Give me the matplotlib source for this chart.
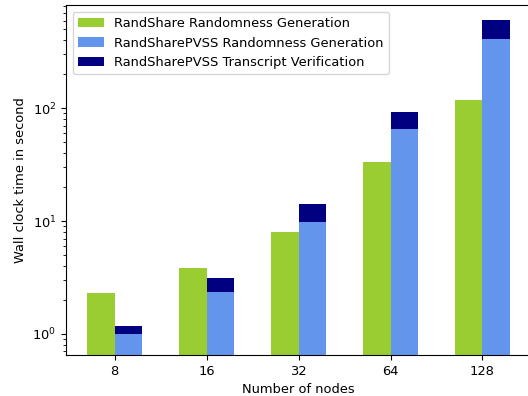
import numpy as np
import matplotlib
matplotlib.use('Agg')
import matplotlib.pyplot as plt

# dane
nodes = ['8', '16', '32', '64', '128']
randshare_gen = [2.29, 3.87, 8.06, 33.4, 117.8]
pvss_gen = [1.0, 2.34, 9.77, 65.6, 411]
pvss_verif = [0.18, 0.78, 4.4, 26.6, 191]

plt.rcParams['font.size'] = 9.4

x = np.arange(len(nodes))
width = 0.3

fig = plt.figure(figsize=(5.28, 3.96), dpi=100)
ax = fig.add_axes([0.125, 0.1035, 0.881, 0.883])

ax.bar(x - width / 2, randshare_gen, width, color='yellowgreen',
       label='RandShare Randomness Generation')
ax.bar(x + width / 2, pvss_gen, width, color='cornflowerblue',
       label='RandSharePVSS Randomness Generation')
ax.bar(x + width / 2, pvss_verif, width, bottom=pvss_gen, color='navy',
       label='RandSharePVSS Transcript Verification')

ax.set_yscale('log')
ax.set_ylim(0.651, 818)
ax.set_xlim(-0.53, 4.53)
ax.set_xticks(x)
ax.set_xticklabels(nodes)
ax.set_xlabel('Number of nodes')
ax.set_ylabel('Wall clock time in second')
ax.legend(loc='upper left')

fig.savefig('out.png', dpi=100)
